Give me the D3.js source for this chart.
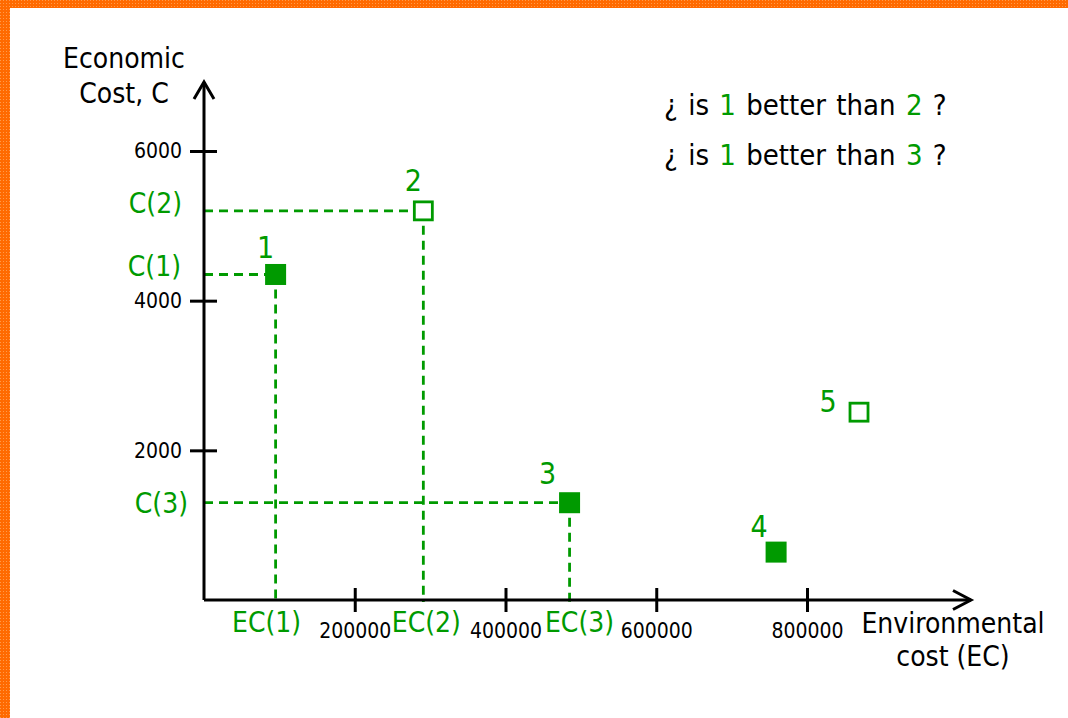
<!DOCTYPE html>
<html><head><meta charset="utf-8">
<script src="https://cdn.jsdelivr.net/npm/d3@7"></script>
<style>
html,body{margin:0;padding:0;background:#fff;}
svg{display:block;}
text{font-family:"DejaVu Sans Condensed","DejaVu Sans",sans-serif;}
</style></head><body>
<svg id="chart" width="1068" height="718"></svg>
<script>
// ---- data ----
const pointNames = ["1", "2", "3", "4", "5"];
const envCost = [95000, 291000, 485000, 759000, 869000];
const econCost = [4350, 5200, 1300, 640, 2510];
const filled = [true, false, true, true, false];
const xTicks = [200000, 400000, 600000, 800000];
const yTicks = [2000, 4000, 6000];
const guidePoints = [0, 1, 2];            // points with dashed guides
const cLabels = ["C(1)", "C(2)", "C(3)"];
const ecLabels = ["EC(1)", "EC(2)", "EC(3)"];
const questionLines = [["1", "2"], ["1", "3"]];

// ---- layout (not data) ----
const W = 1068, H = 718;
const green = "#009a00";
const labelOff = [[-10,-16],[-10,-20],[-22,-19],[-17,-15],[-31,0]];
const cOff = [[-23, 2], [-22, 2], [-16, 10]];
const ecOff = [-9, 3, 10];

const svg = d3.select("#chart");
const defs = svg.append("defs");
const pat = defs.append("pattern").attr("id","orng").attr("width",3).attr("height",3)
  .attr("patternUnits","userSpaceOnUse");
pat.append("rect").attr("width",3).attr("height",3).attr("fill","#ff6a00");
pat.append("rect").attr("width",1).attr("height",1).attr("fill","#ff9a4a");

svg.append("rect").attr("width",W).attr("height",H).attr("fill","#fff");
svg.append("rect").attr("x",0).attr("y",0).attr("width",W).attr("height",8).attr("fill","url(#orng)");
svg.append("rect").attr("x",0).attr("y",0).attr("width",10).attr("height",H).attr("fill","url(#orng)");

const x = d3.scaleLinear().domain([0, 800000]).range([204, 807]);
const y = d3.scaleLinear().domain([0, 6000]).range([600, 151]);

// dashed guides
const g = svg.append("g");
guidePoints.forEach((i, k) => {
  g.append("line").attr("x1", x(0)).attr("x2", x(envCost[i]))
    .attr("y1", y(econCost[i])).attr("y2", y(econCost[i]))
    .attr("stroke", green).attr("stroke-width", 2.8).attr("stroke-dasharray", "9,6");
  g.append("line").attr("x1", x(envCost[i])).attr("x2", x(envCost[i]))
    .attr("y1", y(econCost[i])).attr("y2", y(0) + 2)
    .attr("stroke", green).attr("stroke-width", 2.8).attr("stroke-dasharray", "9,6");
  svg.append("text").attr("x", x(0) + cOff[k][0]).attr("y", y(econCost[i]) + cOff[k][1])
    .attr("text-anchor","end").attr("font-size",28).attr("fill",green).text(cLabels[k]);
  svg.append("text").attr("x", x(envCost[i]) + ecOff[k]).attr("y", 632)
    .attr("text-anchor","middle").attr("font-size",28).attr("fill",green).text(ecLabels[k]);
});

// axes
const yAxis = d3.axisLeft(y).tickValues(yTicks).tickFormat(d3.format("d")).tickSize(0).tickPadding(22);
const ya = svg.append("g").attr("transform", `translate(${x(0)},0)`).call(yAxis);
ya.select(".domain").remove();
ya.selectAll(".tick text").attr("font-size", 21).attr("fill","#000").attr("font-family",null);
ya.selectAll(".tick").append("line").attr("x1",-14).attr("x2",13).attr("stroke","#000").attr("stroke-width",3);

const xAxis = d3.axisBottom(x).tickValues(xTicks).tickFormat(d3.format("d")).tickSize(0).tickPadding(23);
const xa = svg.append("g").attr("transform", `translate(0,${y(0)})`).call(xAxis);
xa.select(".domain").remove();
xa.selectAll(".tick text").attr("font-size", 21).attr("fill","#000").attr("font-family",null);
xa.selectAll(".tick").append("line").attr("y1",-12).attr("y2",12).attr("stroke","#000").attr("stroke-width",3);

// axis lines with arrows
const ax = svg.append("g").attr("fill","none").attr("stroke","#000").attr("stroke-width",3);
ax.append("path").attr("d", `M${x(0)},${y(0)}V82`);
ax.append("path").attr("d", `M${x(0)-10},99L${x(0)},82L${x(0)+10},99`);
ax.append("path").attr("d", `M${x(0)},${y(0)}H971`);
ax.append("path").attr("d", `M953,${y(0)-9.5}L971,${y(0)}L953,${y(0)+9.5}`);

// axis titles
svg.append("text").attr("x",124).attr("y",68).attr("text-anchor","middle").attr("font-size",28).text("Economic");
svg.append("text").attr("x",124).attr("y",103).attr("text-anchor","middle").attr("font-size",28).text("Cost, C");
svg.append("text").attr("x",953).attr("y",633).attr("text-anchor","middle").attr("font-size",28).text("Environmental");
svg.append("text").attr("x",953).attr("y",666).attr("text-anchor","middle").attr("font-size",28).text("cost (EC)");

// points
const s = 20;
pointNames.forEach((n, i) => {
  const cx = x(envCost[i]), cy = y(econCost[i]);
  if (filled[i]) {
    svg.append("rect").attr("x", cx - s/2 - 0.5).attr("y", cy - s/2 - 0.5).attr("width", s+1).attr("height", s+1).attr("fill", green);
  } else {
    svg.append("rect").attr("x", cx - s/2 + 1).attr("y", cy - s/2 + 1).attr("width", s-2).attr("height", s-2)
      .attr("fill", "#fff").attr("stroke", green).attr("stroke-width", 2.8);
  }
  svg.append("text").attr("x", cx + labelOff[i][0]).attr("y", cy + labelOff[i][1])
    .attr("text-anchor","middle").attr("font-size",30).attr("fill",green).text(n);
});

// questions
questionLines.forEach((q, k) => {
  const t = svg.append("text").attr("x", 664).attr("y", 115 + k*50).attr("font-size", 29)
    .attr("word-spacing", 2).attr("xml:space","preserve");
  t.append("tspan").text("¿ is ");
  t.append("tspan").attr("fill", green).text(q[0]);
  t.append("tspan").text(" better than ");
  t.append("tspan").attr("fill", green).text(q[1]);
  t.append("tspan").text(" ?");
});
</script>
</body></html>
